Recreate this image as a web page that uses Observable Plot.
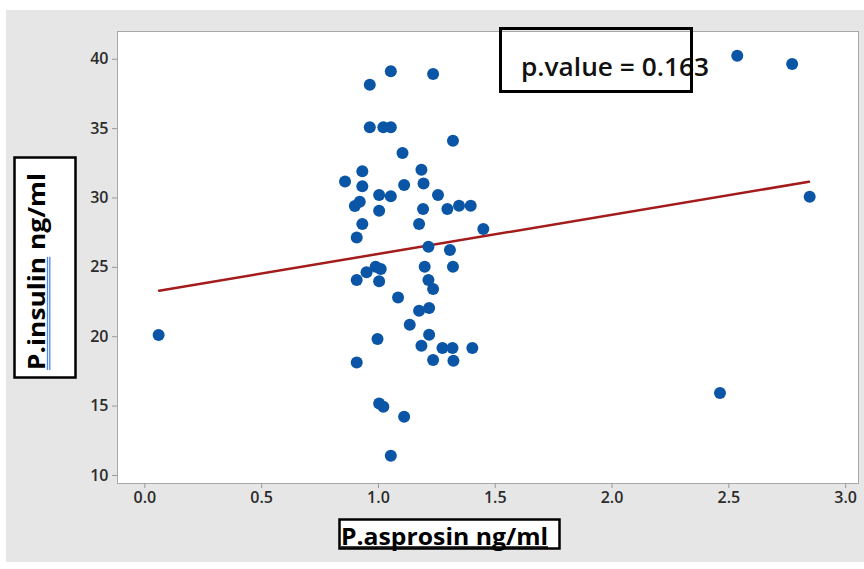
<!DOCTYPE html>
<html>
<head>
<meta charset="utf-8">
<script src="https://cdn.jsdelivr.net/npm/d3@7"></script>
<script src="https://cdn.jsdelivr.net/npm/@observablehq/plot@0.6"></script>
<style>
  body { margin: 0; background: white; }
  #wrap { position: relative; width: 864px; height: 569px; overflow: hidden; }
  #bg { position: absolute; left: 6px; top: 10px; width: 858px; height: 552px; background: #e6e6e6; }
  #wrap svg { position: absolute; left: 0; top: 0; }
</style>
</head>
<body>
<div id="wrap"><div id="bg"></div></div>
<script>
// Data
const asprosin = [0.059, 0.963, 1.053, 1.234, 0.963, 1.021, 1.053, 1.319, 1.103, 0.931,
  0.857, 0.931, 1.110, 1.184, 1.193, 1.255, 1.003, 1.053, 0.899, 0.920,
  1.003, 1.191, 1.295, 1.345, 1.395, 0.931, 1.174, 0.907, 1.449, 1.214,
  1.306, 0.988, 1.010, 0.949, 0.907, 1.003, 1.198, 1.319, 1.214, 1.234,
  1.084, 1.217, 1.174, 1.134, 1.217, 0.996, 1.184, 1.274, 1.317, 1.402,
  0.907, 1.234, 1.321, 1.003, 1.021, 1.110, 1.053, 2.536, 2.771, 2.846, 2.462];
const insulin = [20.12, 38.17, 39.13, 38.94, 35.09, 35.09, 35.09, 34.13, 33.24, 31.92,
  31.18, 30.84, 30.94, 32.04, 31.05, 30.22, 30.22, 30.12, 29.43, 29.72,
  29.08, 29.21, 29.21, 29.44, 29.44, 28.13, 28.13, 27.16, 27.76, 26.49,
  26.25, 25.05, 24.88, 24.64, 24.09, 23.99, 25.05, 25.05, 24.09, 23.44,
  22.83, 22.07, 21.87, 20.87, 20.14, 19.83, 19.35, 19.19, 19.19, 19.19,
  18.15, 18.32, 18.27, 15.19, 14.95, 14.23, 11.42, 40.26, 39.66, 30.09, 15.94];
const fitX = [0.061, 2.843];
const fitY = [23.32, 31.17];
const xTicks = [0, 0.5, 1, 1.5, 2, 2.5, 3];
const yTicks = [10, 15, 20, 25, 30, 35, 40];
const xTitle = "P.asprosin ng/ml";
const yTitleA = "P.insulin";
const yTitleB = " ng/ml";
const pText = "p.value = 0.163";

const points = asprosin.map((x, i) => ({x, y: insulin[i]}));
const fit = fitX.map((x, i) => ({x, y: fitY[i]}));

const chart = Plot.plot({
  width: 864, height: 569,
  marginLeft: 117, marginRight: 6, marginTop: 31, marginBottom: 86,
  x: {domain: [-0.117, 3.055]},
  y: {domain: [9.42, 42.0]},
  style: {background: "transparent", fontFamily: "Open Sans", fontSize: "16px"},
  marks: [
    Plot.frame({fill: "white", stroke: "#a8a8a8"}),
    Plot.axisX(xTicks, {tickSize: 5, tickPadding: 3, tickFormat: d => d.toFixed(1), stroke: "#999", fill: "#2b2b2b", fontWeight: 600, label: null}),
    Plot.axisY(yTicks, {tickSize: 5, tickPadding: 4, stroke: "#999", fill: "#2b2b2b", fontWeight: 600, label: null}),
    Plot.line(fit, {x: "x", y: "y", stroke: "#a31b1b", strokeWidth: 2.5}),
    Plot.dot(points, {x: "x", y: "y", r: 6, fill: "#0b55a6", stroke: "none"})
  ]
});
document.getElementById("wrap").appendChild(chart);

// Annotation overlay
const svg = d3.select("#wrap").append("svg")
  .attr("width", 864).attr("height", 569)
  .style("pointer-events", "none")
  .style("font-family", "Open Sans");

// p.value box (text under, border over)
svg.append("text").attr("x", 521).attr("y", 76)
  .attr("font-size", 25).attr("font-weight", 600).attr("fill", "#111")
  .attr("textLength", 188).attr("lengthAdjust", "spacingAndGlyphs")
  .text(pText);
svg.append("rect").attr("x", 500.5).attr("y", 28.5).attr("width", 191).attr("height", 63)
  .attr("fill", "none").attr("stroke", "#000").attr("stroke-width", 3);

// x title
svg.append("rect").attr("x", 339.5).attr("y", 519.5).attr("width", 220).attr("height", 29)
  .attr("fill", "white").attr("stroke", "#000").attr("stroke-width", 2.5);
svg.append("text").attr("x", 341).attr("y", 545)
  .attr("font-size", 23).attr("font-weight", 700).attr("fill", "#000")
  .attr("textLength", 207).attr("lengthAdjust", "spacingAndGlyphs")
  .text(xTitle);
svg.append("line").attr("x1", 341).attr("x2", 548).attr("y1", 547).attr("y2", 547)
  .attr("stroke", "#000").attr("stroke-width", 1.5);

// y title
svg.append("rect").attr("x", 14.5).attr("y", 157.5).attr("width", 61).attr("height", 220)
  .attr("fill", "white").attr("stroke", "#000").attr("stroke-width", 2.5);
const yt = svg.append("text").attr("transform", "translate(45,370) rotate(-90)")
  .attr("font-size", 24).attr("font-weight", 700).attr("fill", "#000")
  .attr("textLength", 197).attr("lengthAdjust", "spacingAndGlyphs")
  .text(yTitleA + yTitleB);
let wA = 108;
try { wA = yt.node().getSubStringLength(0, yTitleA.length); } catch (e) {}
const ug = svg.append("g").attr("transform", "translate(45,370) rotate(-90)");
ug.append("line").attr("x1", 0).attr("x2", wA).attr("y1", 2.5).attr("y2", 2.5)
  .attr("stroke", "#4f86e8").attr("stroke-width", 1.3);
ug.append("line").attr("x1", 0).attr("x2", wA).attr("y1", 4.8).attr("y2", 4.8)
  .attr("stroke", "#4f86e8").attr("stroke-width", 1.3);
</script>
</body>
</html>
